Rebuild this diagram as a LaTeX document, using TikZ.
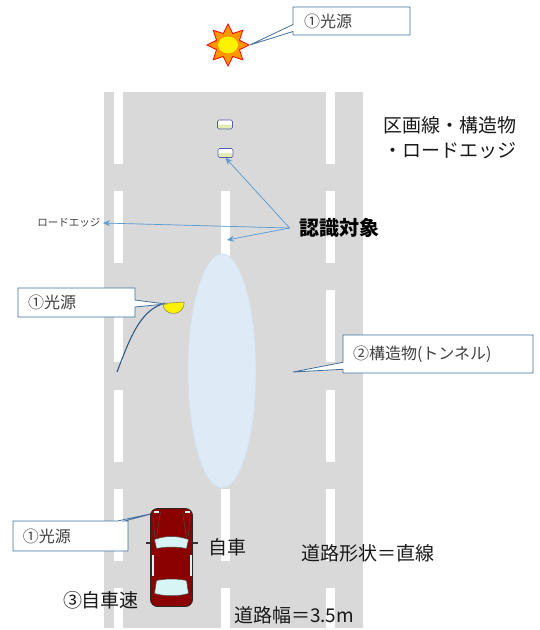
\documentclass[tikz,border=0pt]{standalone}
\usepackage{fontspec}
\setmainfont{Noto Sans CJK JP}
\usepackage{tikz}
\usetikzlibrary{shapes,arrows,arrows.meta,positioning}
\definecolor{roadgray}{RGB}{217,217,217}
\definecolor{boxblue}{RGB}{65,113,156}
\definecolor{arrowblue}{RGB}{91,155,213}
\definecolor{tunnelblue}{RGB}{222,235,247}
\definecolor{poleblue}{RGB}{46,92,138}
\definecolor{carred}{RGB}{139,0,0}
\definecolor{glass}{RGB}{215,245,245}
\definecolor{reflyellow}{RGB}{226,236,180}
\definecolor{sunorange}{RGB}{255,153,0}

\begin{document}
\begin{tikzpicture}[x=1pt, y=-1pt, >={Stealth[length=7pt,width=6pt]}, thick]
  \tikzstyle{callbox} = [rectangle callout, draw=boxblue, fill=white, line width=0.8pt, callout pointer width=7pt, inner xsep=10pt, align=left, text=black!75, font=\fontsize{16}{18}\selectfont]
  \tikzstyle{roadtext} = [font=\fontsize{19}{25}\selectfont, text=black!90]
  \tikzstyle{reflector} = [rectangle, rounded corners=1.5pt, draw=gray!70!blue, fill=white, line width=0.6pt, minimum width=15pt, minimum height=9pt, inner sep=0pt, path picture={\fill[reflyellow] (path picture bounding box.west) rectangle (path picture bounding box.south east);}]
  \tikzstyle{seen} = [->, draw=arrowblue, fill=arrowblue, line width=0.7pt]

  \useasboundingbox (0,0) rectangle (540,630);

  % road and lane markings
  \fill[roadgray] (104,92) rectangle (363,628);
  \foreach \x in {118,330}
    \foreach \k in {0,...,5}
      \fill[white] (\x-4.5, 92+\k*99.2) rectangle (\x+4.5, {min(92+\k*99.2+72,628)});
  \foreach \k in {1,...,5}
    \fill[white] (220.5, 92+\k*99.2) rectangle (229.5, {min(92+\k*99.2+72,628)});

  % tunnel lighting
  \node[ellipse, fill=tunnelblue, draw=tunnelblue!90!gray, minimum width=68pt, minimum height=234pt, inner sep=0pt] (tunnel) at (222,371) {};

  % reflectors on the centre line
  \node[reflector] (refl1) at (225,124.5) {};
  \node[reflector] (refl2) at (225.5,153) {};

  % sun
  \node[star, star points=8, star point ratio=1.7, minimum size=42pt, inner sep=0pt, fill=sunorange, draw=red, line width=0.8pt] (sun) at (228,45) {};
  \filldraw[fill=yellow, draw=orange, line width=0.6pt] (sun.center) ellipse (10.5 and 9);
  \node[callbox, minimum width=117pt, minimum height=28pt, text width=95pt, callout absolute pointer={(sun.east)}] (srclbl1) at (351.5,21) {①光源};

  % street lamp
  \draw[poleblue, line width=1.1pt] (117,372) .. controls (130,338) and (140,310) .. (165,303);
  \filldraw[fill=yellow, draw=gray!60!olive, line width=0.6pt] (163,303.5) .. controls (163,317) and (185,317) .. (184,302) -- cycle;
  \coordinate (lamp) at (165,304);
  \node[callbox, minimum width=117pt, minimum height=29pt, text width=97pt, callout absolute pointer={(lamp)}] (srclbl2) at (76.5,302.5) {①光源};

  % tunnel wall
  \coordinate (wallpt) at (293,372);
  \node[callbox, minimum width=190pt, minimum height=38pt, text width=170pt, callout absolute pointer={(wallpt)}] (tunlbl) at (438,354) {②構造物(トンネル)};

  % own car headlamp
  \coordinate (headlamp) at (159,512);
  \node[callbox, minimum width=115pt, minimum height=30pt, text width=95pt, callout absolute pointer={(headlamp)}] (srclbl3) at (70.5,536) {①光源};

  % own car, seen from above
  \begin{scope}[shift={(171.5,557.5)}]
    \fill[black!80] (-26,-16) rectangle (-20,-13.5);
    \fill[black!80] (20,-16) rectangle (26,-13.5);
    \filldraw[fill=carred, draw=black!85, line width=0.8pt, rounded corners=7pt] (-21,-49) rectangle (21,49);
    \draw[black!70, line width=0.5pt] (-11,-46) -- (-15,-20) (11,-46) -- (15,-20) (-18,-40) -- (-17,-22) (18,-40) -- (17,-22);
    \fill[glass] (-18,-47) rectangle (-13,-44.5);
    \fill[glass] (13,-47) rectangle (18,-44.5);
    \filldraw[fill=glass, draw=black!70, line width=0.5pt] (-17,-18) .. controls (-6,-22) and (6,-22) .. (17,-18) -- (15,-9) .. controls (5,-11) and (-5,-11) .. (-15,-9) -- cycle;
    \filldraw[fill=glass, draw=black!70, line width=0.5pt] (-15,23) .. controls (-5,21) and (5,21) .. (15,23) -- (17,36) .. controls (6,39) and (-6,39) .. (-17,36) -- cycle;
    \fill[glass] (-20,-3) rectangle (-18,18);
    \fill[glass] (18,-3) rectangle (20,18);
  \end{scope}

  % labels
  \node[roadtext, align=left, anchor=west] (objlist) at (380,137.5) {区画線・構造物\\・ロードエッジ};
  \node[font=\bfseries\fontsize{20}{24}\selectfont, inner xsep=9pt] (target) at (339,228) {認識対象};
  \node[font=\fontsize{10.5}{12}\selectfont, text=black!75, inner sep=2pt] (edgelbl) at (69,223) {ロードエッジ};
  \node[roadtext] (egolbl) at (227,547) {自車};
  \node[roadtext] (speedlbl) at (101,600) {③自車速};
  \node[roadtext] (shapelbl) at (368,553) {道路形状＝直線};
  \node[roadtext] (widthlbl) at (294,615) {道路幅＝3.5m};

  % recognition targets
  \coordinate (lanept) at (227,240);
  \draw[seen] (target.west) -- (edgelbl.east);
  \draw[seen] (target.west) -- (lanept);
  \draw[seen] (target.west) -- (refl2.south);
\end{tikzpicture}
\end{document}
